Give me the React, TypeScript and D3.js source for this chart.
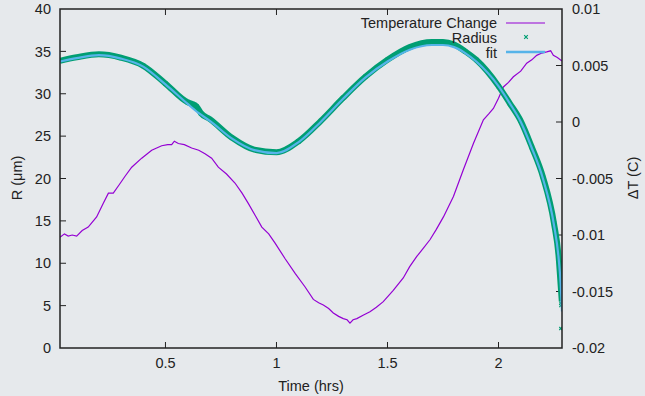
import React from "react";
import * as d3 from "d3";

const W = 645;
const H = 396;
const plot = { left: 60, right: 562, top: 9, bottom: 348 };

// axis ticks
const xTicks = [0.5, 1, 1.5, 2];
const xTickLabels = ["0.5", "1", "1.5", "2"];
const rTicks = [0, 5, 10, 15, 20, 25, 30, 35, 40];
const dtTicks = [-0.02, -0.015, -0.01, -0.005, 0, 0.005, 0.01];
const dtTickLabels = ["-0.02", "-0.015", "-0.01", "-0.005", "0", "0.005", "0.01"];

// Temperature change (right axis)
const tempTime = [
  0.025, 0.045, 0.062, 0.08, 0.1, 0.125, 0.152, 0.19, 0.22, 0.243, 0.265, 0.29, 0.318, 0.348,
  0.393, 0.438, 0.483, 0.51, 0.528, 0.54, 0.558, 0.585, 0.618, 0.65, 0.678, 0.708, 0.738,
  0.775, 0.813, 0.845, 0.873, 0.905, 0.934, 0.965, 0.993, 1.039, 1.084, 1.129, 1.166, 1.19,
  1.211, 1.235, 1.256, 1.28, 1.301, 1.318, 1.331, 1.345, 1.362, 1.39, 1.421, 1.45, 1.481,
  1.526, 1.571, 1.6, 1.632, 1.66, 1.692, 1.72, 1.752, 1.797, 1.842, 1.887, 1.932, 1.955,
  1.977, 2.0, 2.022, 2.045, 2.067, 2.1, 2.127, 2.15, 2.172, 2.195, 2.217, 2.235, 2.247, 2.265,
  2.286,
];
const tempDelta = [
  -0.0102, -0.0099, -0.0101, -0.0100, -0.0101, -0.0096, -0.0093, -0.0084, -0.0072, -0.0063,
  -0.0063, -0.0056, -0.0048, -0.0040, -0.0032, -0.0025, -0.0021, -0.0020, -0.0020, -0.0017,
  -0.0019, -0.0020, -0.0023, -0.0025, -0.0028, -0.0032, -0.0040, -0.0046, -0.0054, -0.0063,
  -0.0072, -0.0083, -0.0093, -0.0099, -0.0107, -0.0121, -0.0134, -0.0146, -0.0157, -0.0160,
  -0.0162, -0.0165, -0.0169, -0.0172, -0.0174, -0.0175, -0.0178, -0.0175, -0.0174, -0.0171,
  -0.0168, -0.0164, -0.0159, -0.0149, -0.0138, -0.0128, -0.0119, -0.0112, -0.0104, -0.0095,
  -0.0084, -0.0066, -0.0042, -0.0019, 0.0002, 0.0007, 0.0012, 0.0021, 0.0031, 0.0035, 0.0040,
  0.0045, 0.0052, 0.0055, 0.0059, 0.0061, 0.0062, 0.0063, 0.0059, 0.0057, 0.0054,
];

// Radius (left axis)
const radiusTime = [
  0.025, 0.1, 0.2, 0.3, 0.4, 0.5, 0.6, 0.62, 0.64, 0.66, 0.7, 0.8, 0.9, 1.0, 1.1, 1.2, 1.3,
  1.4, 1.5, 1.6, 1.7, 1.75, 1.8, 1.85, 1.9, 2.0, 2.05, 2.1, 2.15, 2.2, 2.25, 2.27, 2.28, 2.285,
];
const radiusValue = [
  33.9, 34.3, 34.65, 34.25, 33.3, 31.2, 29.0, 28.8, 28.5, 27.7, 27.0, 24.8, 23.4, 23.1, 24.4,
  26.8, 29.5, 32.0, 34.0, 35.5, 36.1, 36.1, 35.8, 35.0, 34.0, 30.9, 28.9, 26.8, 23.7, 20.2,
  14.7, 11.0, 7.4, 5.5,
];
const radiusEndTime = [2.285, 2.285, 2.285, 2.285, 2.285];
const radiusEndValue = [6.8, 6.1, 5.3, 5.0, 2.3];

// fit (left axis)
const fitTime = [
  0.025, 0.1, 0.2, 0.3, 0.4, 0.5, 0.6, 0.65, 0.7, 0.8, 0.9, 1.0, 1.1, 1.2, 1.3, 1.4, 1.5, 1.6,
  1.7, 1.75, 1.8, 1.85, 1.9, 2.0, 2.05, 2.1, 2.15, 2.2, 2.25, 2.27, 2.28, 2.286,
];
const fitValue = [
  33.8, 34.2, 34.55, 34.15, 33.2, 31.1, 28.8, 27.7, 26.8, 24.7, 23.35, 23.0, 24.3, 26.7, 29.4,
  31.9, 33.8, 35.2, 35.75, 35.75, 35.5, 34.8, 33.8, 30.9, 28.9, 26.7, 23.6, 20.0, 14.5, 10.8,
  7.6, 4.3,
];

const legendItems = ["Temperature Change", "Radius", "fit"];

const PURPLE = "#9400d3";
const GREEN = "#009e73";
const BLUE = "#56b4e9";
const INK = "#222";
const FONT = "'Liberation Sans', Arial, Helvetica, sans-serif";

const App: React.FC = () => {
  const x = d3.scaleLinear().domain([0.025, 2.286]).range([plot.left, plot.right]);
  const yR = d3.scaleLinear().domain([0, 40]).range([plot.bottom, plot.top]);
  const yT = d3.scaleLinear().domain([-0.02, 0.01]).range([plot.bottom, plot.top]);

  const tempLine = d3
    .line<number>()
    .x((_, i) => x(tempTime[i]))
    .y((d) => yT(d))(tempDelta);
  const radiusLine = d3
    .line<number>()
    .curve(d3.curveMonotoneX)
    .x((_, i) => x(radiusTime[i]))
    .y((d) => yR(d))(radiusValue);
  const fitLine = d3
    .line<number>()
    .curve(d3.curveMonotoneX)
    .x((_, i) => x(fitTime[i]))
    .y((d) => yR(d))(fitValue);

  const cross = (cx: number, cy: number, s: number, key: string) => (
    <path
      key={key}
      d={`M${cx - s},${cy - s}L${cx + s},${cy + s}M${cx - s},${cy + s}L${cx + s},${cy - s}`}
      stroke={GREEN}
      strokeWidth={1.2}
      fill="none"
    />
  );

  const legendX = 497;
  const legendY = [23, 38, 53];

  return (
    <svg
      width={W}
      height={H}
      style={{ position: "absolute", left: 0, top: 0 }}
      fontFamily={FONT}
    >
      <rect width={W} height={H} fill="#e6e9ec" />

      <defs>
        <clipPath id="plotClip">
          <rect x={plot.left} y={plot.top} width={plot.right - plot.left} height={plot.bottom - plot.top} />
        </clipPath>
      </defs>

      {/* ticks */}
      <g stroke={INK} strokeWidth={1}>
        {rTicks.slice(1, -1).map((t) => (
          <line key={"r" + t} x1={plot.left} x2={plot.left + 6} y1={yR(t)} y2={yR(t)} />
        ))}
        {dtTicks.slice(1, -1).map((t) => (
          <line key={"t" + t} x1={plot.right - 6} x2={plot.right} y1={yT(t)} y2={yT(t)} />
        ))}
        {xTicks.map((t) => (
          <g key={"x" + t}>
            <line x1={x(t)} x2={x(t)} y1={plot.bottom} y2={plot.bottom - 6} />
            <line x1={x(t)} x2={x(t)} y1={plot.top} y2={plot.top + 6} />
          </g>
        ))}
      </g>

      {/* tick labels */}
      <g fill={INK} fontSize={14.5}>
        {rTicks.map((t) => (
          <text key={"rl" + t} x={51} y={yR(t)} dy="0.36em" textAnchor="end">
            {t}
          </text>
        ))}
        {dtTicks.map((t, i) => (
          <text key={"tl" + t} x={572} y={yT(t)} dy="0.36em" textAnchor="start">
            {dtTickLabels[i]}
          </text>
        ))}
        {xTicks.map((t, i) => (
          <text key={"xl" + t} x={x(t)} y={363} dy="0.36em" textAnchor="middle">
            {xTickLabels[i]}
          </text>
        ))}
      </g>

      {/* axis titles */}
      <g fill={INK} fontSize={14.5}>
        <text x={311} y={386} dy="0.36em" textAnchor="middle">
          Time (hrs)
        </text>
        <text transform="translate(17,178) rotate(-90)" textAnchor="middle" dy="0.36em">
          R (μm)
        </text>
        <text transform="translate(633,178) rotate(-90)" textAnchor="middle" dy="0.36em">
          ΔT (C)
        </text>
      </g>

      {/* series */}
      <g clipPath="url(#plotClip)">
        <path d={tempLine ?? ""} fill="none" stroke={PURPLE} strokeWidth={1.2} />
        <path d={radiusLine ?? ""} fill="none" stroke={GREEN} strokeWidth={6} strokeLinejoin="round" />
        {radiusTime.map((t, i) => cross(x(t), yR(radiusValue[i]), 2, "rp" + i))}
        {radiusEndTime.map((t, i) => cross(x(t) - 1, yR(radiusEndValue[i]), 1.5, "re" + i))}
        <path d={fitLine ?? ""} fill="none" stroke={BLUE} strokeWidth={2.2} />
      </g>

      {/* legend */}
      <g fontSize={14.5} fill={INK}>
        {legendItems.map((name, i) => (
          <text key={name} x={legendX} y={legendY[i]} dy="0.36em" textAnchor="end">
            {name}
          </text>
        ))}
        <line x1={506} x2={545} y1={legendY[0]} y2={legendY[0]} stroke={PURPLE} strokeWidth={1.2} />
        {cross(526, legendY[1] - 1, 1.8, "leg")}
        <line x1={506} x2={545} y1={legendY[2] - 1} y2={legendY[2] - 1} stroke={BLUE} strokeWidth={2.4} />
      </g>

      {/* frame */}
      <rect
        x={plot.left}
        y={plot.top}
        width={plot.right - plot.left}
        height={plot.bottom - plot.top}
        fill="none"
        stroke={INK}
        strokeWidth={1.5}
      />
    </svg>
  );
};

export default App;
